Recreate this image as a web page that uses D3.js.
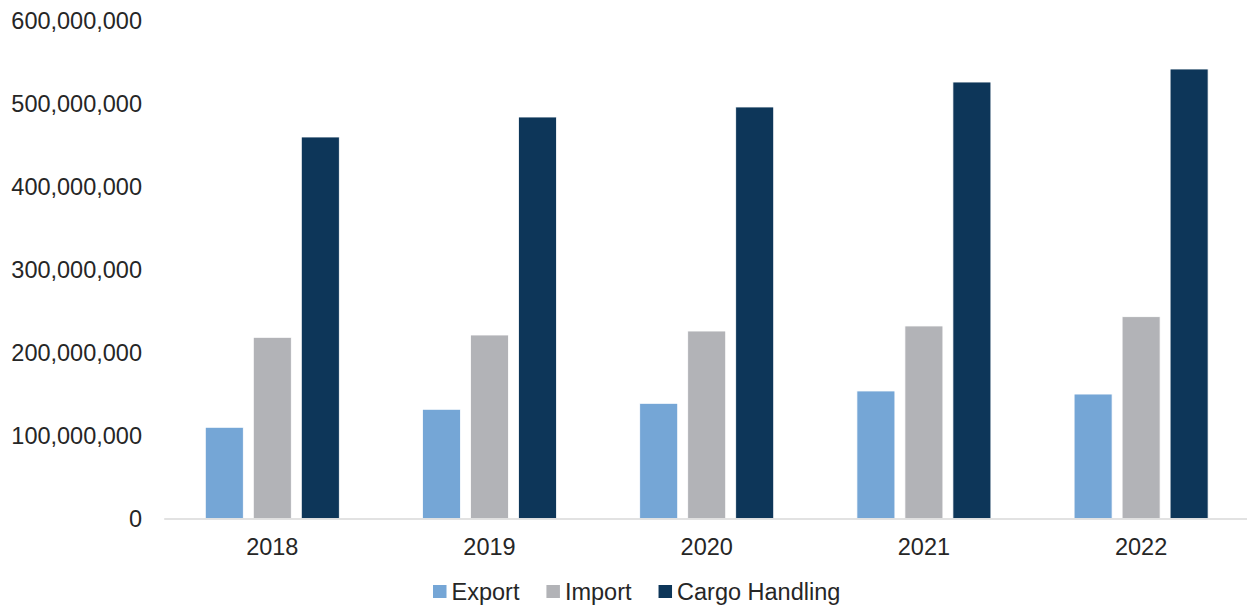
<!DOCTYPE html>
<html>
<head>
<meta charset="utf-8">
<script src="https://cdn.jsdelivr.net/npm/d3@7"></script>
<style>
  html, body { margin: 0; padding: 0; background: #fff; }
  svg { display: block; }
  text { font-family: "Liberation Sans", Arial, sans-serif; fill: #262626; }
</style>
</head>
<body>
<svg id="chart" width="1247" height="605"></svg>
<script>
const years = ["2018", "2019", "2020", "2021", "2022"];
const seriesNames = ["Export", "Import", "Cargo Handling"];
const exportValues = [110.0e6, 131.7e6, 138.9e6, 153.8e6, 150.1e6];
const importValues = [218.5e6, 221.3e6, 226.1e6, 232.2e6, 243.4e6];
const cargoValues  = [460.1e6, 484.2e6, 496.3e6, 526.4e6, 542.1e6];
const yTicks = [0, 100e6, 200e6, 300e6, 400e6, 500e6, 600e6];
const colors = ["#75A6D6", "#B2B3B7", "#0D3659"];

const seriesValues = [exportValues, importValues, cargoValues];
const svg = d3.select("#chart");

const plotLeft = 163.7, plotRight = 1249.7, plotTop = 21, plotBottom = 518.5;

const x0 = d3.scaleBand().domain(years).range([plotLeft, plotRight]).padding(0);
const x1 = d3.scaleBand().domain(seriesNames).range([0, 134]).paddingInner(10 / 48).paddingOuter(0);
const y = d3.scaleLinear().domain([0, 600e6]).range([plotBottom, plotTop]);

// y labels
const yAxis = d3.axisLeft(y).tickValues(yTicks).tickSize(0).tickPadding(0)
  .tickFormat(d3.format(","));
const yg = svg.append("g").attr("transform", "translate(142,0)").call(yAxis);
yg.select(".domain").remove();
yg.selectAll("text").style("font-size", "23.5px").style("font-family", "'Liberation Sans', Arial, sans-serif").attr("fill", "#262626");

// bars
const groups = svg.append("g").selectAll("g").data(years).join("g")
  .attr("transform", d => `translate(${x0(d) + x0.bandwidth() / 2 - 67},0)`);
groups.selectAll("rect")
  .data((yr, i) => seriesNames.map((s, k) => ({ s, k, v: seriesValues[k][i] })))
  .join("rect")
  .attr("x", d => x1(d.s))
  .attr("width", x1.bandwidth())
  .attr("y", d => y(d.v))
  .attr("height", d => y(0) - y(d.v))
  .attr("fill", d => colors[d.k])
  .attr("stroke", "#ffffff")
  .attr("stroke-width", 0.8);

// x axis
const xAxis = d3.axisBottom(x0).tickSize(0).tickPadding(0);
const xg = svg.append("g").attr("transform", `translate(0,${plotBottom})`).call(xAxis);
xg.select(".domain").attr("stroke", "#D9D9D9").attr("stroke-width", 1.5);
xg.selectAll("text").attr("dy", null).attr("y", 36.5)
  .style("font-size", "23.5px").style("font-family", "'Liberation Sans', Arial, sans-serif").attr("fill", "#262626");

// legend
const legend = svg.append("g");
let lx = 433;
seriesNames.forEach((s, k) => {
  legend.append("rect").attr("x", lx).attr("y", 585).attr("width", 13.5).attr("height", 13)
    .attr("fill", colors[k]);
  const t = legend.append("text").attr("x", lx + 18.5).attr("y", 599.5)
    .style("font-size", "23.5px").text(s);
  lx = lx + 18.5 + t.node().getComputedTextLength() + 27;
});
</script>
</body>
</html>
